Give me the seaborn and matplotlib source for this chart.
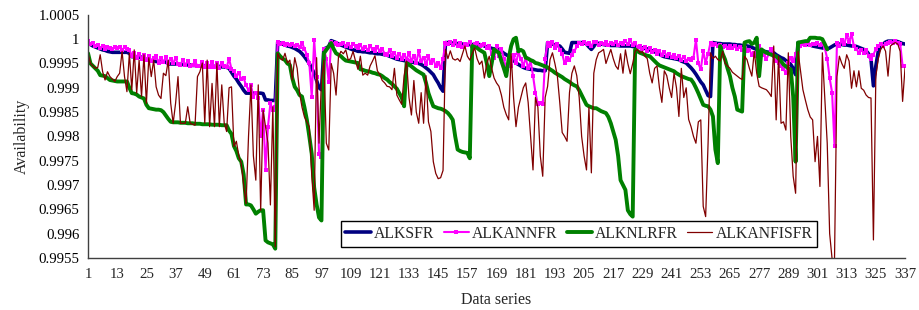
import numpy as np
import pandas as pd
import matplotlib
matplotlib.use("Agg")
import matplotlib.pyplot as plt
import seaborn as sns

# Values (one row = 12 data points)
alksfr = [
    0.99992, 0.99989, 0.99986, 0.99984, 0.99982, 0.99980, 0.99978, 0.99977, 0.99975, 0.99974, 0.99973, 0.99973,
    0.99973, 0.99973, 0.99973, 0.99973, 0.99973, 0.99971, 0.99964, 0.99964, 0.99963, 0.99963, 0.99963, 0.99962,
    0.99957, 0.99957, 0.99956, 0.99956, 0.99954, 0.99954, 0.99954, 0.99953, 0.99953, 0.99949, 0.99949, 0.99949,
    0.99949, 0.99949, 0.99948, 0.99948, 0.99947, 0.99947, 0.99947, 0.99946, 0.99946, 0.99945, 0.99945, 0.99945,
    0.99945, 0.99945, 0.99944, 0.99944, 0.99944, 0.99944, 0.99944, 0.99943, 0.99943, 0.99942, 0.99940, 0.99932,
    0.99924, 0.99918, 0.99910, 0.99903, 0.99895, 0.99889, 0.99889, 0.99889, 0.99889, 0.99889, 0.99889, 0.99889,
    0.99888, 0.99875, 0.99875, 0.99874, 0.99874, 0.99874, 0.99994, 0.99992, 0.99990, 0.99988, 0.99986, 0.99985,
    0.99983, 0.99981, 0.99978, 0.99975, 0.99970, 0.99964, 0.99957, 0.99950, 0.99940, 0.99930, 0.99915, 0.99900,
    0.99896, 0.99980, 0.99982, 0.99985, 0.99997, 0.99995, 0.99993, 0.99990, 0.99988, 0.99986, 0.99984, 0.99982,
    0.99980, 0.99978, 0.99977, 0.99975, 0.99975, 0.99974, 0.99974, 0.99973, 0.99972, 0.99972, 0.99971, 0.99970,
    0.99970, 0.99969, 0.99968, 0.99967, 0.99965, 0.99963, 0.99961, 0.99959, 0.99958, 0.99957, 0.99956, 0.99955,
    0.99954, 0.99953, 0.99952, 0.99951, 0.99950, 0.99948, 0.99945, 0.99941, 0.99937, 0.99932, 0.99927, 0.99918,
    0.99910, 0.99900, 0.99893, 0.99993, 0.99993, 0.99992, 0.99992, 0.99991, 0.99991, 0.99990, 0.99990, 0.99990,
    0.99989, 0.99989, 0.99989, 0.99988, 0.99988, 0.99989, 0.99988, 0.99986, 0.99984, 0.99983, 0.99981, 0.99980,
    0.99979, 0.99978, 0.99975, 0.99971, 0.99968, 0.99965, 0.99961, 0.99957, 0.99951, 0.99948, 0.99945, 0.99942,
    0.99940, 0.99939, 0.99938, 0.99938, 0.99937, 0.99936, 0.99936, 0.99935, 0.99935, 0.99993, 0.99992, 0.99990,
    0.99988, 0.99987, 0.99986, 0.99980, 0.99973, 0.99972, 0.99971, 0.99993, 0.99993, 0.99993, 0.99993, 0.99993,
    0.99993, 0.99990, 0.99984, 0.99979, 0.99985, 0.99993, 0.99991, 0.99990, 0.99989, 0.99988, 0.99988, 0.99987,
    0.99987, 0.99987, 0.99987, 0.99986, 0.99986, 0.99986, 0.99986, 0.99986, 0.99985, 0.99985, 0.99984, 0.99983,
    0.99982, 0.99981, 0.99980, 0.99978, 0.99976, 0.99974, 0.99972, 0.99969, 0.99966, 0.99964, 0.99963, 0.99962,
    0.99961, 0.99960, 0.99959, 0.99958, 0.99955, 0.99953, 0.99951, 0.99946, 0.99941, 0.99935, 0.99928, 0.99920,
    0.99912, 0.99906, 0.99895, 0.99884, 0.99882, 0.99993, 0.99992, 0.99991, 0.99991, 0.99990, 0.99990, 0.99990,
    0.99990, 0.99989, 0.99989, 0.99988, 0.99988, 0.99987, 0.99987, 0.99986, 0.99985, 0.99983, 0.99981, 0.99979,
    0.99977, 0.99976, 0.99975, 0.99974, 0.99973, 0.99972, 0.99972, 0.99968, 0.99965, 0.99962, 0.99960, 0.99956,
    0.99952, 0.99948, 0.99940, 0.99927, 0.99993, 0.99992, 0.99991, 0.99990, 0.99989, 0.99988, 0.99986, 0.99985,
    0.99984, 0.99983, 0.99982, 0.99981, 0.99980, 0.99982, 0.99985, 0.99988, 0.99990, 0.99990, 0.99989, 0.99988,
    0.99988, 0.99987, 0.99986, 0.99986, 0.99985, 0.99983, 0.99981, 0.99979, 0.99976, 0.99970, 0.99959, 0.99904,
    0.99945, 0.99975, 0.99986, 0.99990, 0.99994, 0.99996, 0.99996, 0.99996, 0.99996, 0.99995, 0.99993, 0.99991,
    0.99990,
]

alkannfr = [
    0.99997, 0.99990, 0.99992, 0.99985, 0.99988, 0.99982, 0.99985, 0.99980, 0.99983, 0.99982, 0.99979, 0.99983,
    0.99981, 0.99984, 0.99978, 0.99983, 0.99979, 0.99978, 0.99966, 0.99972, 0.99962, 0.99970, 0.99960, 0.99968,
    0.99958, 0.99965, 0.99955, 0.99962, 0.99965, 0.99952, 0.99962, 0.99953, 0.99963, 0.99950, 0.99960, 0.99950,
    0.99962, 0.99948, 0.99947, 0.99958, 0.99946, 0.99956, 0.99945, 0.99946, 0.99955, 0.99944, 0.99945, 0.99954,
    0.99942, 0.99952, 0.99943, 0.99953, 0.99942, 0.99950, 0.99940, 0.99950, 0.99945, 0.99942, 0.99960, 0.99938,
    0.99935, 0.99925, 0.99930, 0.99918, 0.99920, 0.99905, 0.99895, 0.99905, 0.99882, 0.99890, 0.99880, 0.99800,
    0.99854, 0.99730, 0.99820, 0.99868, 0.99855, 0.99860, 0.99995, 0.99990, 0.99992, 0.99989, 0.99991, 0.99988,
    0.99990, 0.99987, 0.99988, 0.99984, 0.99993, 0.99980, 0.99968, 0.99950, 0.99882, 0.99999, 0.99923, 0.99763,
    0.99758, 0.99980, 0.99960, 0.99912, 0.99995, 0.99990, 0.99993, 0.99988, 0.99990, 0.99992, 0.99986, 0.99990,
    0.99984, 0.99990, 0.99986, 0.99982, 0.99988, 0.99980, 0.99984, 0.99978, 0.99986, 0.99979, 0.99975, 0.99984,
    0.99975, 0.99980, 0.99970, 0.99968, 0.99978, 0.99965, 0.99972, 0.99962, 0.99970, 0.99960, 0.99968, 0.99958,
    0.99972, 0.99955, 0.99965, 0.99952, 0.99975, 0.99955, 0.99962, 0.99948, 0.99965, 0.99950, 0.99958, 0.99945,
    0.99950, 0.99941, 0.99960, 0.99993, 0.99990, 0.99995, 0.99988, 0.99996, 0.99985, 0.99992, 0.99983, 0.99990,
    0.99988, 0.99995, 0.99985, 0.99990, 0.99992, 0.99985, 0.99988, 0.99990, 0.99982, 0.99986, 0.99970, 0.99962,
    0.99985, 0.99965, 0.99980, 0.99960, 0.99938, 0.99960, 0.99945, 0.99968, 0.99950, 0.99972, 0.99960, 0.99945,
    0.99962, 0.99940, 0.99955, 0.99925, 0.99890, 0.99866, 0.99868, 0.99866, 0.99960, 0.99993, 0.99985, 0.99995,
    0.99982, 0.99990, 0.99978, 0.99970, 0.99950, 0.99962, 0.99958, 0.99968, 0.99975, 0.99985, 0.99993, 0.99990,
    0.99995, 0.99990, 0.99993, 0.99986, 0.99995, 0.99994, 0.99988, 0.99993, 0.99990, 0.99994, 0.99988, 0.99992,
    0.99990, 0.99994, 0.99988, 0.99993, 0.99990, 0.99996, 0.99990, 0.99998, 0.99988, 0.99992, 0.99984, 0.99986,
    0.99980, 0.99984, 0.99976, 0.99982, 0.99974, 0.99978, 0.99970, 0.99975, 0.99968, 0.99974, 0.99966, 0.99970,
    0.99964, 0.99968, 0.99962, 0.99966, 0.99958, 0.99964, 0.99956, 0.99960, 0.99958, 0.99962, 0.99999, 0.99950,
    0.99938, 0.99975, 0.99952, 0.99970, 0.99993, 0.99988, 0.99990, 0.99985, 0.99988, 0.99983, 0.99987, 0.99982,
    0.99986, 0.99981, 0.99985, 0.99980, 0.99984, 0.99978, 0.99982, 0.99975, 0.99978, 0.99968, 0.99972, 0.99965,
    0.99985, 0.99975, 0.99968, 0.99959, 0.99970, 0.99980, 0.99965, 0.99955, 0.99950, 0.99945, 0.99938, 0.99931,
    0.99950, 0.99962, 0.99955, 0.99970, 0.99979, 0.99985, 0.99990, 0.99988, 0.99992, 0.99989, 0.99991, 0.99990,
    0.99992, 0.99988, 0.99990, 0.99982, 0.99960, 0.99920, 0.99890, 0.99780, 0.99993, 0.99985, 0.99998, 0.99990,
    1.00008, 0.99995, 1.00010, 0.99985, 0.99980, 0.99972, 0.99978, 0.99972, 0.99978, 0.99965, 0.99959, 0.99968,
    0.99980, 0.99986, 0.99990, 0.99985, 0.99990, 0.99993, 0.99995, 0.99993, 0.99996, 0.99992, 0.99990, 0.99945,
    0.99945,
]

# ALKNLRFR stops at data point 305
alknlrfr = [
    0.99971, 0.99950, 0.99945, 0.99940, 0.99935, 0.99926, 0.99925, 0.99924, 0.99920, 0.99916, 0.99915, 0.99914,
    0.99913, 0.99913, 0.99913, 0.99913, 0.99913, 0.99900, 0.99889, 0.99888, 0.99886, 0.99882, 0.99880, 0.99878,
    0.99865, 0.99858, 0.99857, 0.99856, 0.99855, 0.99855, 0.99854, 0.99850, 0.99843, 0.99836, 0.99830, 0.99829,
    0.99829, 0.99829, 0.99828, 0.99828, 0.99828, 0.99827, 0.99827, 0.99827, 0.99826, 0.99826, 0.99826, 0.99825,
    0.99825, 0.99825, 0.99825, 0.99824, 0.99824, 0.99824, 0.99824, 0.99823, 0.99823, 0.99823, 0.99812, 0.99805,
    0.99780, 0.99770, 0.99755, 0.99748, 0.99722, 0.99660, 0.99660, 0.99658, 0.99650, 0.99641, 0.99645, 0.99648,
    0.99648, 0.99586, 0.99582, 0.99580, 0.99578, 0.99569, 0.99971, 0.99965, 0.99960, 0.99957, 0.99950, 0.99947,
    0.99920, 0.99902, 0.99895, 0.99885, 0.99882, 0.99860, 0.99834, 0.99800, 0.99764, 0.99695, 0.99660, 0.99633,
    0.99627, 0.99971, 0.99978, 0.99985, 0.99992, 0.99980, 0.99971, 0.99968, 0.99965, 0.99960, 0.99956, 0.99955,
    0.99954, 0.99953, 0.99952, 0.99951, 0.99938, 0.99937, 0.99935, 0.99934, 0.99933, 0.99931, 0.99930, 0.99928,
    0.99927, 0.99924, 0.99920, 0.99917, 0.99912, 0.99908, 0.99903, 0.99898, 0.99889, 0.99880, 0.99862, 0.99951,
    0.99948, 0.99944, 0.99940, 0.99936, 0.99933, 0.99930, 0.99927, 0.99910, 0.99889, 0.99875, 0.99862, 0.99860,
    0.99858, 0.99857, 0.99855, 0.99852, 0.99848, 0.99842, 0.99834, 0.99800, 0.99773, 0.99770, 0.99768, 0.99767,
    0.99766, 0.99755, 0.99986, 0.99984, 0.99982, 0.99978, 0.99975, 0.99972, 0.99950, 0.99924, 0.99950, 0.99979,
    0.99975, 0.99972, 0.99955, 0.99940, 0.99924, 0.99960, 0.99986, 1.00000, 1.00003, 0.99975, 0.99978, 0.99975,
    0.99962, 0.99960, 0.99957, 0.99955, 0.99951, 0.99950, 0.99948, 0.99946, 0.99944, 0.99942, 0.99938, 0.99935,
    0.99931, 0.99928, 0.99925, 0.99922, 0.99918, 0.99915, 0.99912, 0.99908, 0.99905, 0.99903, 0.99895, 0.99885,
    0.99875, 0.99865, 0.99862, 0.99860, 0.99858, 0.99858, 0.99855, 0.99852, 0.99850, 0.99848, 0.99840, 0.99827,
    0.99810, 0.99793, 0.99760, 0.99710, 0.99700, 0.99690, 0.99648, 0.99640, 0.99635, 0.99979, 0.99975, 0.99972,
    0.99970, 0.99968, 0.99966, 0.99965, 0.99960, 0.99955, 0.99950, 0.99946, 0.99944, 0.99942, 0.99940, 0.99938,
    0.99936, 0.99934, 0.99930, 0.99927, 0.99924, 0.99922, 0.99920, 0.99918, 0.99917, 0.99910, 0.99900, 0.99889,
    0.99877, 0.99865, 0.99863, 0.99862, 0.99855, 0.99841, 0.99773, 0.99745, 0.99986, 0.99970, 0.99958, 0.99940,
    0.99924, 0.99900, 0.99882, 0.99855, 0.99853, 0.99851, 0.99993, 0.99995, 0.99996, 0.99990, 0.99993, 1.00003,
    0.99924, 0.99979, 0.99975, 0.99972, 0.99970, 0.99968, 0.99966, 0.99965, 0.99960, 0.99955, 0.99948, 0.99944,
    0.99940, 0.99938, 0.99882, 0.99748, 0.99993, 0.99994, 0.99995, 0.99996, 0.99996, 1.00003, 1.00003, 1.00003,
    1.00002, 1.00002, 1.00000, 0.99990, 0.99979,
]

alkanfisfr = [
    0.99971, 0.99950, 0.99945, 0.99940, 0.99942, 0.99968, 0.99933, 0.99916, 0.99933, 0.99923, 0.99918, 0.99913,
    0.99923, 0.99930, 0.99975, 0.99923, 0.99892, 0.99971, 0.99896, 0.99978, 0.99889, 0.99957, 0.99882, 0.99968,
    0.99868, 0.99962, 0.99923, 0.99957, 0.99902, 0.99885, 0.99878, 0.99930, 0.99925, 0.99957, 0.99868, 0.99827,
    0.99868, 0.99923, 0.99827, 0.99827, 0.99827, 0.99861, 0.99827, 0.99825, 0.99823, 0.99923, 0.99933, 0.99951,
    0.99827, 0.99957, 0.99820, 0.99909, 0.99820, 0.99951, 0.99820, 0.99906, 0.99827, 0.99810, 0.99900, 0.99902,
    0.99779, 0.99790, 0.99760, 0.99744, 0.99700, 0.99662, 0.99800, 0.99906, 0.99760, 0.99710, 0.99906, 0.99648,
    0.99854, 0.99820, 0.99786, 0.99659, 0.99861, 0.99573, 0.99971, 0.99960, 0.99957, 0.99971, 0.99951, 0.99957,
    0.99916, 0.99962, 0.99940, 0.99889, 0.99860, 0.99840, 0.99830, 0.99820, 0.99720, 0.99648, 0.99962, 0.99786,
    0.99916, 0.99957, 0.99786, 0.99772, 0.99950, 0.99930, 0.99885, 0.99964, 0.99975, 0.99970, 0.99978, 0.99957,
    0.99960, 0.99975, 0.99955, 0.99938, 0.99965, 0.99926, 0.99930, 0.99926, 0.99945, 0.99955, 0.99966, 0.99935,
    0.99927, 0.99915, 0.99910, 0.99903, 0.99902, 0.99896, 0.99940, 0.99885, 0.99875, 0.99866, 0.99925, 0.99955,
    0.99880, 0.99844, 0.99915, 0.99850, 0.99827, 0.99890, 0.99827, 0.99925, 0.99830, 0.99810, 0.99748, 0.99724,
    0.99713, 0.99715, 0.99730, 0.99979, 0.99960, 0.99976, 0.99960, 0.99957, 0.99960, 0.99954, 0.99970, 0.99986,
    0.99965, 0.99957, 0.99970, 0.99982, 0.99960, 0.99948, 0.99955, 0.99920, 0.99950, 0.99965, 0.99940, 0.99920,
    0.99910, 0.99903, 0.99885, 0.99860, 0.99845, 0.99834, 0.99970, 0.99880, 0.99820, 0.99860, 0.99880, 0.99900,
    0.99910, 0.99870, 0.99800, 0.99731, 0.99880, 0.99860, 0.99760, 0.99718, 0.99880, 0.99903, 0.99958, 0.99972,
    0.99950, 0.99925, 0.99870, 0.99808, 0.99800, 0.99790, 0.99890, 0.99930, 0.99945, 0.99925, 0.99880, 0.99800,
    0.99760, 0.99731, 0.99860, 0.99725, 0.99930, 0.99958, 0.99972, 0.99975, 0.99979, 0.99950, 0.99965, 0.99979,
    0.99960, 0.99945, 0.99938, 0.99970, 0.99930, 0.99978, 0.99950, 0.99929, 0.99950, 0.99975, 0.99979, 0.99972,
    0.99975, 0.99965, 0.99960, 0.99930, 0.99910, 0.99940, 0.99945, 0.99900, 0.99870, 0.99935, 0.99925, 0.99900,
    0.99880, 0.99930, 0.99900, 0.99841, 0.99940, 0.99880, 0.99900, 0.99835, 0.99820, 0.99800, 0.99786, 0.99830,
    0.99834, 0.99656, 0.99635, 0.99786, 0.99972, 0.99960, 0.99965, 0.99958, 0.99955, 0.99975, 0.99950, 0.99945,
    0.99940, 0.99932, 0.99928, 0.99924, 0.99920, 0.99917, 0.99965, 0.99958, 0.99940, 0.99924, 0.99975, 0.99930,
    0.99903, 0.99900, 0.99898, 0.99896, 0.99890, 0.99882, 0.99986, 0.99834, 0.99965, 0.99827, 0.99830, 0.99813,
    0.99972, 0.99800, 0.99718, 0.99683, 0.99975, 0.99935, 0.99896, 0.99875, 0.99855, 0.99840, 0.99834, 0.99748,
    0.99800, 0.99697, 0.99972, 0.99880, 0.99786, 0.99600, 0.99548, 0.99548, 0.99923, 0.99965, 0.99950, 0.99940,
    0.99968, 0.99955, 0.99899, 0.99935, 0.99902, 0.99935, 0.99899, 0.99895, 0.99885, 0.99880, 0.99879, 0.99587,
    0.99924, 0.99960, 0.99979, 0.99986, 0.99975, 0.99924, 0.99986, 0.99990, 0.99993, 0.99990, 0.99975, 0.99872,
    0.99941,
]

series_names = ['ALKSFR', 'ALKANNFR', 'ALKNLRFR', 'ALKANFISFR']
tick_labels = list(range(1, 338, 12))

sns.set_style("white")
plt.rcParams['font.family'] = ['Liberation Serif', 'DejaVu Serif']

fig = plt.figure(figsize=(9.19, 3.10), dpi=100)
ax = fig.add_axes([0.0958, 0.168, 0.889, 0.784])

estilos = {
    'ALKSFR': {'dados': alksfr, 'cor': '#000080', 'lw': 2.6, 'marker': None},
    'ALKANNFR': {'dados': alkannfr, 'cor': '#FF00FF', 'lw': 1.5, 'marker': 's'},
    'ALKNLRFR': {'dados': alknlrfr, 'cor': '#008000', 'lw': 2.8, 'marker': None},
    'ALKANFISFR': {'dados': alkanfisfr, 'cor': '#800000', 'lw': 0.9, 'marker': None},
}

for nome in series_names:
    info = estilos[nome]
    y = info['dados']
    x = np.arange(1, len(y) + 1)
    kw = {}
    if info['marker']:
        kw = dict(marker='s', markersize=2.2, markeredgewidth=0, markerfacecolor=info['cor'])
    sns.lineplot(x=x, y=y, ax=ax, color=info['cor'], linewidth=info['lw'],
                 label=nome, errorbar=None, sort=False, **kw)

ax.set_xlim(1, 337)
ax.set_ylim(0.9955, 1.0005)
ax.set_xticks(tick_labels)
ax.set_xticklabels([str(t) for t in tick_labels])
yt = np.linspace(0.9955, 1.0005, 11)
ax.set_yticks(yt)
ax.set_yticklabels(['%g' % round(v, 4) for v in yt])

ax.tick_params(axis='y', direction='out', length=4, width=0.8, labelsize=10.7, pad=2, colors='#000000')
ax.tick_params(axis='x', direction='out', length=0, labelsize=10.7, pad=7)
for s in ['top', 'right']:
    ax.spines[s].set_visible(False)
for s in ['left', 'bottom']:
    ax.spines[s].set_color('#404040')
    ax.spines[s].set_linewidth(1.0)
ax.grid(False)

ax.set_xlabel('Data series', fontsize=11.5, labelpad=8)
ax.set_ylabel('Availability', fontsize=11.5, labelpad=6)

leg = ax.legend(loc='center', bbox_to_anchor=(0.601, 0.099), ncol=4, frameon=True,
                fontsize=11.3, handlelength=1.6, handletextpad=0.2, columnspacing=0.6,
                borderpad=0.3, fancybox=False, framealpha=1)
leg.get_frame().set_edgecolor('#000000')
leg.get_frame().set_linewidth(1.0)

fig.savefig('out.png', dpi=100)
